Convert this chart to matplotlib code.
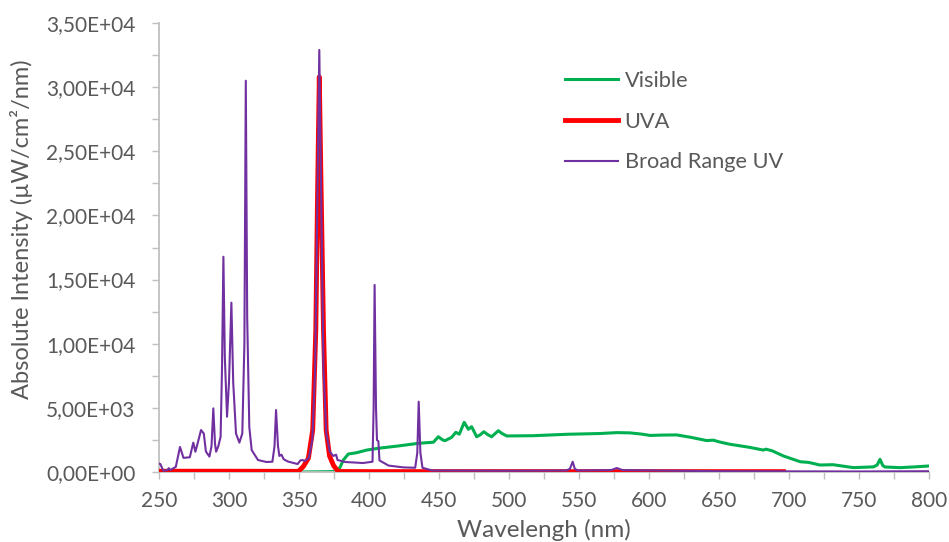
import matplotlib
matplotlib.use("Agg")
import matplotlib.pyplot as plt
from matplotlib.ticker import MultipleLocator, FixedLocator, FixedFormatter

# Spectral irradiance of three lamp types
visible_wl = [250, 350, 370, 378, 381.7, 385.2, 391, 398.4, 406.7, 421, 435.5, 446, 449.5,
              452.6, 454.3, 459, 462, 464.5, 468, 471, 473.3, 476.9, 479.5, 482, 485, 487.6,
              492.4, 495, 498.4, 517.4, 541.2, 565, 577, 586.4, 595, 600.7, 610, 619.8, 630,
              641.2, 646, 650, 657.9, 672, 681.6, 683.6, 688, 696, 708, 714, 722, 731.4, 746,
              760.4, 763, 765, 767, 768.6, 779.3, 790, 800]
visible_int = [0, 0, 20, 60, 935, 1400, 1500, 1710, 1850, 2030, 2240, 2320, 2750,
               2500, 2440, 2700, 3090, 2950, 3870, 3330, 3530, 2750, 2900, 3140, 2900, 2750,
               3220, 3000, 2810, 2830, 2940, 3000, 3070, 3050, 2950, 2850, 2880, 2890, 2700,
               2450, 2480, 2350, 2160, 1920, 1710, 1780, 1650, 1250, 800, 750, 545, 570, 340,
               400, 550, 990, 500, 390, 340, 400, 470]

uva_wl = [250, 300, 349.5, 353, 356.7, 359.8, 362, 363.3, 364.5, 365.8, 367.5, 369.4,
          371.8, 374.8, 378, 400, 500, 600, 696]
uva_int = [60, 60, 50, 415, 1070, 3270, 11070, 22000, 30800, 22000, 11070, 3270,
           1250, 480, 40, 30, 30, 30, 30]

broad_wl = [250, 251, 253, 256, 257, 258, 262, 265, 267.5, 272, 274.5, 276, 278, 280, 282,
            283.5, 286, 287.5, 288.8, 290, 290.8, 292.4, 294, 295, 296, 297, 298.6, 300,
            301.7, 303, 305, 307.4, 309.5, 311, 312, 313, 314.5, 316.2, 320.7, 326.7, 331,
            332.5, 333.6, 335, 336, 337.5, 339, 342, 349, 351, 352.6, 354, 357, 359.5, 361.5,
            363, 364.5, 366, 367.5, 369.5, 372, 374.5, 376.5, 377.5, 383, 395.7, 402.5, 403.3,
            404, 405, 405.7, 406.7, 407.5, 414, 424.5, 433, 434.5, 435.5, 436.7, 438.2, 445,
            500, 541, 543.5, 545.5, 547, 549, 573, 577, 581, 650, 700, 750, 800]
broad_int = [650, 620, 100, 150, 300, 150, 400, 1950, 1100, 1150, 2290, 1580, 2400, 3270, 3000,
             1600, 1200, 2000, 4960, 2200, 1580, 2025, 2740, 8000, 16780, 9000, 4310, 7000,
             13200, 7000, 3000, 2290, 3000, 10000, 30500, 12000, 3500, 1710, 935, 780, 800,
             2000, 4830, 2000, 1250, 1350, 1000, 820, 620, 900, 935, 850, 1100, 2500, 8000,
             20000, 32900, 20000, 8000, 3000, 1580, 1250, 1350, 935, 780, 700, 800, 5000,
             14580, 5000, 2490, 2400, 900, 500, 360, 330, 1500, 5480, 1500, 330, 120,
             100, 120, 250, 800, 250, 120, 150, 310, 150, 60, 50, 40, 60]

series_labels = ["Visible", "UVA", "Broad Range UV"]
ytick_values = [0, 5000, 10000, 15000, 20000, 25000, 30000, 35000]
ytick_labels = ["0,00E+00", "5,00E+03", "1,00E+04", "1,50E+04", "2,00E+04",
                "2,50E+04", "3,00E+04", "3,50E+04"]

plt.rcParams['font.family'] = ['Lato', 'DejaVu Sans']
text_color = "#595959"
axis_color = "#bfbfbf"

W, H = 949, 542
fig = plt.figure(figsize=(W / 100, H / 100), dpi=100)
ax = fig.add_axes([159 / W, 1 - 472 / H, 770 / W, 449 / H])

ax.plot(visible_wl, visible_int, color="#00b050", lw=2.2, label=series_labels[0],
        zorder=2, solid_joinstyle="round")
ax.plot(uva_wl, uva_int, color="#ff0000", lw=3.5, label=series_labels[1],
        zorder=3, solid_joinstyle="round")
ax.plot(broad_wl, broad_int, color="#7030a0", lw=1.5, label=series_labels[2],
        zorder=4, solid_joinstyle="round")

ax.set_xlim(250, 800)
ax.set_ylim(0, 35000)
ax.xaxis.set_major_locator(MultipleLocator(50))
ax.xaxis.set_minor_locator(MultipleLocator(25))
ax.yaxis.set_major_locator(FixedLocator(ytick_values))
ax.yaxis.set_major_formatter(FixedFormatter(ytick_labels))
ax.yaxis.set_minor_locator(MultipleLocator(2500))

for side in ("top", "right"):
    ax.spines[side].set_visible(False)
for side in ("left", "bottom"):
    ax.spines[side].set_color(axis_color)
    ax.spines[side].set_linewidth(1.3)

ax.tick_params(which="both", direction="out", color=axis_color, width=1.0,
               length=5, labelcolor=text_color, labelsize=15)
ax.tick_params(axis="x", pad=9)
ax.tick_params(axis="y", pad=12)

ax.set_xlabel("Wavelengh (nm)", fontsize=17.5, color=text_color)
ax.xaxis.label.set_va("center")
ax.xaxis.set_label_coords(0.5, (472 - 530) / 449)
ax.set_ylabel("Absolute Intensity (µW/cm²/nm)", fontsize=17, color=text_color)
ax.yaxis.label.set_va("center")
ax.yaxis.set_label_coords((22 - 159) / 770, (472 - 229) / 449)

leg = ax.legend(loc="upper left", bbox_to_anchor=(565 / W, 1 - 71 / H),
                bbox_transform=fig.transFigure, frameon=False, borderpad=0,
                borderaxespad=0, fontsize=15.7, labelspacing=0.95,
                handlelength=2.45, handletextpad=0.28, labelcolor=text_color)

fig.savefig("out.png", dpi=100)
